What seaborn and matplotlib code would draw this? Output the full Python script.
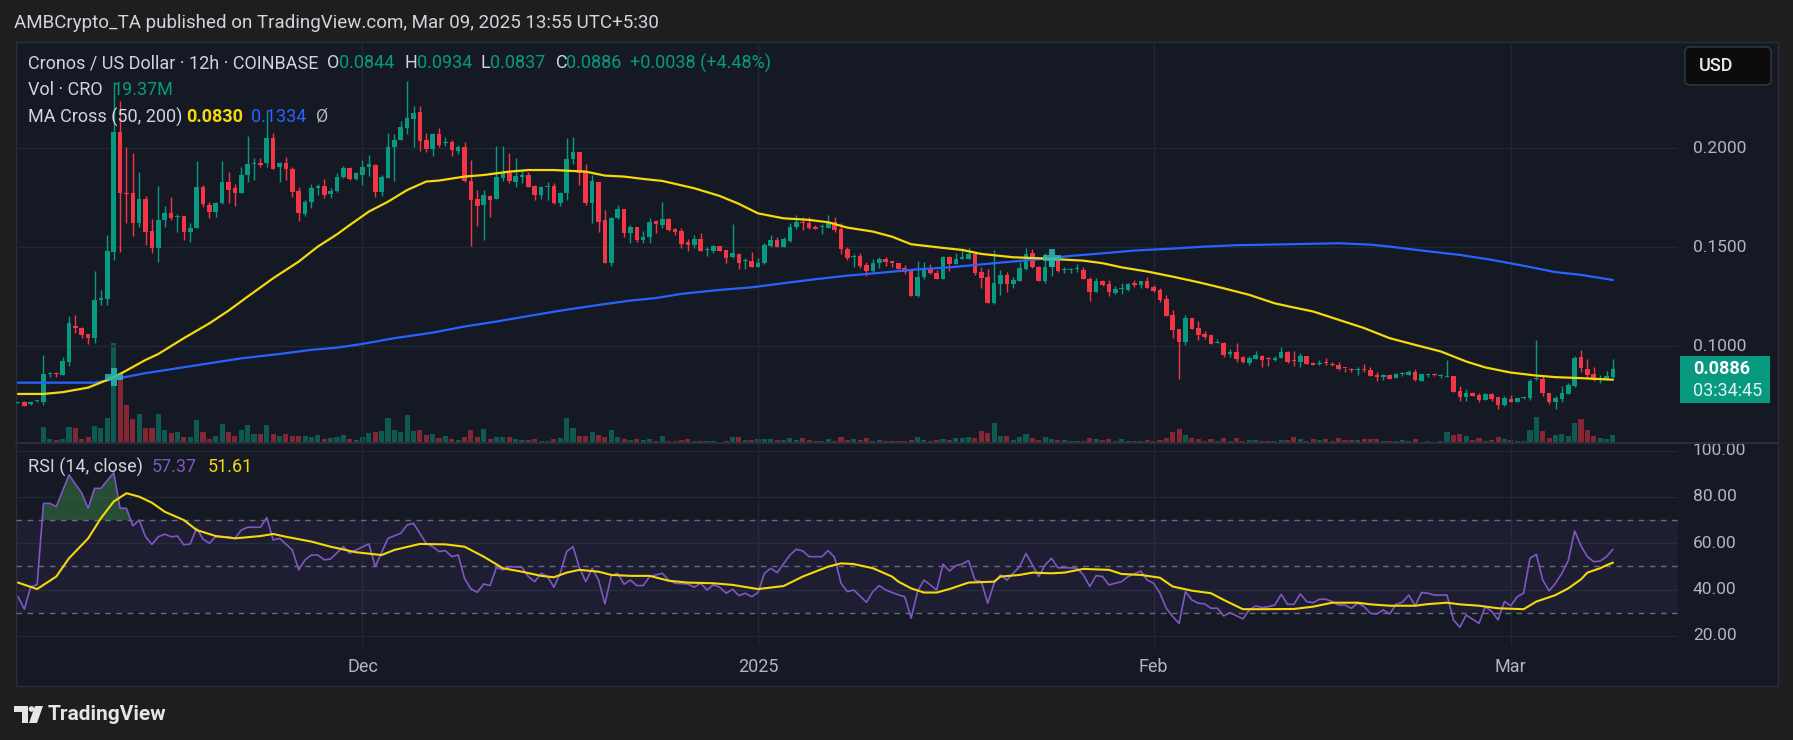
import matplotlib
matplotlib.use("Agg")
import matplotlib.pyplot as plt
import matplotlib.patches as mpatches
import numpy as np
import pandas as pd
import seaborn as sns

W, H = 1793, 740

# 12h candles, index 0 = 4 Nov 2024 00:00 UTC ... index 250 = 9 Mar 2025 00:00 UTC
opens = [
    .0712, .0719, .0706, .0721, .0719, .0857, .0860, .0854, .0917, .1104, .1090,
    .1060, .1040, .1233, .1237, .1478, .2084, .1776, .1776, .1621, .1744,
    .1582, .1498, .1638, .1673, .1655, .1658, .1579, .1599, .1806, .1714,
    .1680, .1722, .1830, .1801, .1776, .1864, .1919, .1924, .1924, .2052,
    .1904, .1924, .1894, .1784, .1668, .1730, .1798, .1810, .1767, .1786,
    .1853, .1902, .1845, .1865, .1907, .1916, .1781, .1852, .2005, .2042,
    .2104, .2147, .2182, .2042, .1995, .2072, .2028, .2030, .1988, .2005,
    .1837, .1742, .1714, .1761, .1744, .1852, .1877, .1832, .1857, .1865,
    .1810, .1764, .1805, .1810, .1722, .1776, .1944, .1981, .1882, .1722,
    .1828, .1638, .1422, .1646, .1693, .1574, .1604, .1537, .1553, .1634,
    .1612, .1643, .1592, .1582, .1525, .1511, .1540, .1485, .1483, .1506,
    .1486, .1449, .1466, .1429, .1430, .1402, .1419, .1508, .1537, .1503,
    .1533, .1604, .1625, .1624, .1604, .1603, .1599, .1628, .1592, .1491,
    .1452, .1457, .1410, .1382, .1419, .1441, .1430, .1419, .1393, .1385,
    .1255, .1348, .1390, .1372, .1339, .1449, .1414, .1439, .1441, .1466,
    .1373, .1350, .1216, .1314, .1360, .1314, .1331, .1392, .1469, .1402,
    .1331, .1398, .1444, .1384, .1384, .1392, .1385, .1338, .1275, .1329,
    .1314, .1270, .1287, .1284, .1318, .1309, .1329, .1297, .1284, .1237,
    .1158, .1085, .1021, .1141, .1090, .1061, .1056, .1017, .1018, .0960,
    .0972, .0943, .0913, .0935, .0952, .0936, .0930, .0942, .0972, .0928,
    .0917, .0951, .0914, .0909, .0915, .0910, .0905, .0889, .0885, .0877,
    .0885, .0880, .0855, .0846, .0855, .0841, .0859, .0855, .0871, .0824,
    .0854, .0856, .0849, .0846, .0851, .0774, .0745, .0765, .0754, .0728,
    .0759, .0742, .0700, .0733, .0715, .0737, .0740, .0833, .0834, .0765,
    .0715, .0733, .0759, .0799, .0944, .0885, .0858, .0829, .0829, .0844,
]
highs = [
    .0718, .0721, .0721, .0725, .0955, .0871, .0871, .0947, .1152, .1156, .1095,
    .1062, .1380, .1284, .1562, .2337, .2241, .2005, .1978, .1879, .1760,
    .1641, .1810, .1710, .1756, .1668, .1660, .1621, .1936, .1815, .1730,
    .1730, .1938, .1879, .1820, .1904, .2062, .1953, .1949, .2194, .2079,
    .1933, .1958, .1907, .1803, .1739, .1818, .1818, .1845, .1798, .1874,
    .1911, .1904, .1882, .1941, .1966, .1920, .1865, .2076, .2072, .2140,
    .2340, .2214, .2214, .2076, .2079, .2101, .2059, .2042, .2017, .2034,
    .1941, .1789, .1789, .1764, .2012, .2012, .1978, .1949, .1890, .1882,
    .1815, .1810, .1828, .1823, .1781, .2051, .2056, .1981, .1921, .1865,
    .1828, .1688, .1655, .1714, .1693, .1612, .1604, .1582, .1646, .1638,
    .1730, .1646, .1599, .1599, .1540, .1562, .1574, .1503, .1511, .1508,
    .1488, .1617, .1469, .1444, .1476, .1444, .1520, .1562, .1550, .1553,
    .1621, .1663, .1651, .1651, .1612, .1618, .1663, .1651, .1621, .1500,
    .1466, .1469, .1424, .1441, .1449, .1449, .1430, .1422, .1410, .1385,
    .1430, .1424, .1415, .1385, .1457, .1457, .1469, .1494, .1498, .1478,
    .1402, .1388, .1486, .1385, .1377, .1351, .1427, .1494, .1491, .1405,
    .1469, .1486, .1452, .1402, .1397, .1415, .1402, .1348, .1343, .1334,
    .1334, .1304, .1318, .1321, .1334, .1331, .1348, .1309, .1292, .1259,
    .1183, .1085, .1158, .1144, .1127, .1077, .1056, .1036, .1019, .0986,
    .1017, .0950, .0952, .0977, .0955, .0947, .0950, .0994, .0977, .0977,
    .0964, .0951, .0919, .0930, .0939, .0919, .0919, .0890, .0888, .0892,
    .0909, .0893, .0868, .0860, .0858, .0863, .0871, .0880, .0885, .0860,
    .0860, .0863, .0860, .0930, .0851, .0799, .0782, .0767, .0762, .0762,
    .0762, .0745, .0750, .0754, .0740, .0750, .0834, .1032, .0851, .0765,
    .0750, .0799, .0813, .0951, .0981, .0936, .0892, .0855, .0875, .0934,
]
lows = [
    .0710, .0697, .0704, .0719, .0703, .0846, .0846, .0852, .0900, .1065, .1040,
    .1011, .1018, .1208, .1208, .1436, .1478, .1621, .1557, .1604, .1511,
    .1469, .1427, .1604, .1638, .1579, .1537, .1528, .1596, .1705, .1650,
    .1655, .1719, .1725, .1710, .1773, .1832, .1840, .1904, .1904, .1896,
    .1832, .1840, .1756, .1634, .1658, .1697, .1764, .1751, .1747, .1778,
    .1848, .1840, .1842, .1815, .1860, .1752, .1759, .1852, .1837, .2040,
    .2072, .2005, .1987, .1983, .1963, .2005, .2012, .1963, .1971, .1832,
    .1506, .1607, .1537, .1655, .1744, .1837, .1826, .1806, .1826, .1806,
    .1739, .1742, .1739, .1719, .1710, .1739, .1921, .1815, .1714, .1621,
    .1579, .1422, .1407, .1641, .1553, .1523, .1528, .1520, .1520, .1574,
    .1599, .1584, .1562, .1498, .1483, .1498, .1481, .1457, .1469, .1481,
    .1422, .1444, .1388, .1388, .1400, .1398, .1415, .1500, .1503, .1503,
    .1528, .1591, .1587, .1592, .1591, .1567, .1596, .1579, .1466, .1436,
    .1398, .1393, .1356, .1373, .1393, .1405, .1402, .1388, .1365, .1254,
    .1250, .1339, .1365, .1339, .1338, .1382, .1414, .1439, .1439, .1357,
    .1296, .1216, .1213, .1259, .1275, .1292, .1331, .1385, .1393, .1331,
    .1318, .1356, .1377, .1368, .1371, .1377, .1338, .1230, .1275, .1304,
    .1255, .1264, .1264, .1280, .1301, .1296, .1292, .1275, .1225, .1154,
    .1043, .0832, .1003, .1085, .1031, .1036, .1011, .1014, .0947, .0947,
    .0922, .0913, .0905, .0935, .0896, .0901, .0927, .0938, .0913, .0901,
    .0893, .0910, .0902, .0905, .0905, .0900, .0880, .0868, .0871, .0855,
    .0871, .0851, .0824, .0829, .0833, .0838, .0851, .0855, .0821, .0824,
    .0846, .0850, .0841, .0843, .0770, .0720, .0720, .0749, .0715, .0728,
    .0723, .0683, .0698, .0716, .0715, .0733, .0725, .0829, .0750, .0708,
    .0683, .0715, .0759, .0791, .0871, .0846, .0821, .0813, .0826, .0837,
]
closes = [
    .0714, .0699, .0719, .0723, .0859, .0860, .0857, .0923, .1115, .1090, .1056,
    .1040, .1233, .1245, .1481, .2084, .1776, .1770, .1621, .1744, .1579,
    .1498, .1638, .1673, .1650, .1658, .1579, .1599, .1806, .1717, .1680,
    .1722, .1830, .1789, .1773, .1864, .1921, .1921, .1914, .2052, .1896,
    .1924, .1894, .1781, .1675, .1730, .1801, .1810, .1764, .1786, .1857,
    .1902, .1845, .1877, .1907, .1919, .1778, .1857, .2005, .2042, .2110,
    .2152, .2180, .2037, .1995, .2072, .2017, .2031, .1992, .2005, .1837,
    .1739, .1708, .1764, .1739, .1857, .1874, .1837, .1860, .1865, .1806,
    .1764, .1803, .1808, .1722, .1776, .1944, .1983, .1877, .1722, .1835,
    .1629, .1422, .1646, .1693, .1574, .1604, .1537, .1553, .1626, .1617,
    .1643, .1587, .1579, .1516, .1511, .1540, .1481, .1487, .1506, .1483,
    .1447, .1469, .1419, .1431, .1402, .1419, .1511, .1537, .1503, .1540,
    .1604, .1629, .1622, .1599, .1592, .1605, .1624, .1587, .1491, .1447,
    .1457, .1407, .1382, .1419, .1441, .1427, .1419, .1390, .1377, .1255,
    .1348, .1390, .1368, .1339, .1452, .1414, .1441, .1452, .1466, .1372,
    .1346, .1216, .1321, .1360, .1314, .1334, .1395, .1466, .1398, .1331,
    .1402, .1452, .1382, .1386, .1386, .1394, .1338, .1275, .1329, .1309,
    .1275, .1289, .1289, .1314, .1309, .1329, .1296, .1279, .1233, .1154,
    .1082, .1021, .1141, .1087, .1056, .1045, .1011, .1019, .0955, .0972,
    .0935, .0917, .0938, .0955, .0930, .0934, .0942, .0972, .0922, .0926,
    .0951, .0910, .0905, .0915, .0913, .0902, .0885, .0887, .0877, .0885,
    .0877, .0851, .0846, .0855, .0834, .0860, .0861, .0871, .0829, .0860,
    .0856, .0854, .0851, .0851, .0770, .0745, .0762, .0750, .0728, .0759,
    .0733, .0703, .0737, .0716, .0737, .0745, .0824, .0835, .0765, .0715,
    .0737, .0762, .0804, .0939, .0888, .0855, .0826, .0833, .0850, .0886,
]
volumes_m = [
    2.4, 2.4, 2.4, 2.4, 37.6, 10.4, 7.2, 10.4, 37.6, 35.2, 9.6,
    13.6, 40, 35.2, 59.2, 236.8, 162.4, 90.4, 56.8, 69.6, 35.2,
    35.2, 69.6, 30.4, 23.2, 26.4, 13.6, 13.6, 54.4, 26.4, 10.4,
    16, 44, 26.4, 16, 30.4, 42.4, 21.6, 21.6, 42.4, 21.6,
    16, 21.6, 16, 16, 16, 13.6, 18.4, 9.6, 12, 13.6,
    18.4, 10.4, 8, 13.6, 24, 26.4, 28, 58.4, 30.4, 25.6,
    66.4, 28, 30.4, 18.4, 21.6, 12, 16, 10.4, 8, 13.6,
    30.4, 13.6, 32.8, 9.6, 13.6, 13.6, 13.6, 10.4, 6.4, 8,
    10.4, 5.6, 4, 10.4, 12, 58.4, 35.2, 16, 16, 25.6,
    20, 13.6, 30.4, 13.6, 9.6, 6.4, 9.6, 6.4, 9.6, 4,
    16.8, 4.8, 4.8, 7.2, 10.4, 4.8, 4.8, 4.8, 4.8, 2.4,
    4.8, 14.4, 14.4, 7.2, 7.2, 10.4, 10.4, 10.4, 7.2, 7.2,
    12, 7.2, 12, 7.2, 4.8, 4.8, 10.4, 4.8, 14.4, 7.2,
    10.4, 7.2, 12, 4.8, 7.2, 4.8, 4.8, 4.8, 4.8, 7.2,
    14.4, 7.2, 4.8, 7.2, 10.4, 7.2, 12, 12, 14.4, 12,
    28.8, 24, 46.4, 16.8, 16.8, 7.2, 14.4, 21.6, 12, 7.2,
    14.4, 9.6, 7.2, 7.2, 4.8, 4.8, 4.8, 12, 9.6, 7.2,
    9.6, 4.8, 9.6, 4.8, 4.8, 4.8, 7.2, 4.8, 7.2, 12,
    26.4, 33.6, 19.2, 12, 9.6, 4.8, 9.6, 4.8, 12, 4.8,
    12, 4.8, 7.2, 7.2, 4.8, 4.8, 4.8, 7.2, 7.2, 14.4,
    9.6, 4.8, 9.6, 7.2, 9.6, 4.8, 12, 7.2, 7.2, 7.2,
    9.6, 9.6, 9.6, 4.8, 4.8, 4.8, 7.2, 4.8, 9.6, 2.4,
    4.8, 2.4, 4.8, 26.4, 19.2, 21.6, 16.8, 7.2, 12, 4.8,
    7.2, 14.4, 9.6, 7.2, 4.8, 4.8, 31.2, 62.4, 28.8, 12,
    19.2, 21.6, 16.8, 48, 57.6, 31.2, 16.8, 12, 9.6, 19.37,
]

# moving averages (candle index, price)
ma50_idx = [0, 4, 7, 11, 14, 16, 20, 22, 26, 30, 33, 36, 40, 44, 47, 50, 52, 55, 58, 61,
            64, 66, 70, 73, 77, 80, 84, 89, 92, 95, 98, 101, 106, 110, 113, 116, 120, 124,
            127, 130, 134, 137, 140, 144, 148, 151, 156, 160, 163, 167, 170, 173, 177, 181,
            185, 189, 193, 197, 200, 203, 207, 211, 215, 219, 223, 227, 230, 234, 238, 241,
            245, 250]
ma50_val = [.0758, .0758, .0767, .0790, .0829, .0859, .0930, .0960, .1040, .1115, .1179,
            .1250, .1343, .1427, .1503, .1565, .1612, .1680, .1730, .1789, .1832, .1837,
            .1857, .1865, .1882, .1890, .1890, .1882, .1862, .1857, .1845, .1835, .1798,
            .1759, .1719, .1671, .1646, .1638, .1626, .1599, .1579, .1553, .1515, .1500,
            .1486, .1466, .1449, .1444, .1439, .1432, .1419, .1398, .1377, .1351, .1323,
            .1292, .1259, .1216, .1195, .1175, .1133, .1091, .1040, .1006, .0973, .0922,
            .0892, .0866, .0851, .0843, .0838, .0830]
ma200_idx = [0, 12, 14, 20, 25, 30, 35, 41, 46, 50, 54, 59, 65, 70, 75, 80, 85, 91, 96, 100,
             104, 110, 115, 120, 125, 130, 136, 141, 146, 150, 154, 160, 165, 170, 175, 181,
             186, 191, 196, 201, 207, 212, 215, 220, 226, 231, 236, 241, 245, 250]
ma200_val = [.0815, .0815, .0826, .0863, .0888, .0913, .0938, .0960, .0981, .0992, .1011,
             .1040, .1068, .1099, .1124, .1152, .1179, .1208, .1230, .1243, .1264, .1284,
             .1297, .1318, .1338, .1356, .1373, .1388, .1398, .1410, .1422, .1439, .1456,
             .1469, .1483, .1493, .1503, .1510, .1513, .1516, .1520, .1513, .1503, .1483,
             .1461, .1436, .1406, .1374, .1360, .1334]
cross_idx = [15, 162]
cross_price = [0.0842, 0.1444]

# RSI (14)
rsi_idx = [0, 1, 2, 3, 4, 5, 6, 8, 10, 11, 12, 13, 15, 16, 17, 18, 19, 20, 21, 22, 23, 24,
           25, 26, 27, 28, 29, 30, 31, 33, 34, 35, 36, 38, 39, 40, 41, 43, 44, 45, 46, 47,
           48, 49, 51, 52, 53, 55, 56, 58, 60, 61, 62, 64, 65, 66, 67, 68, 69, 70, 71, 72,
           73, 74, 75, 76, 77, 79, 80, 81, 82, 83, 84, 85, 86, 87, 88, 89, 90, 91, 92, 93,
           94, 95, 96, 97, 98, 99, 101, 102, 103, 105, 106, 107, 108, 109, 110, 111, 112,
           113, 114, 115, 116, 117, 118, 119, 121, 122, 123, 124, 126, 127, 128, 129, 130,
           131, 133, 134, 135, 136, 138, 139, 140, 141, 142, 143, 144, 145, 146, 147, 148,
           149, 150, 151, 152, 153, 154, 155, 157, 158, 159, 160, 161, 162, 163, 165, 166,
           167, 168, 169, 170, 171, 173, 174, 176, 177, 178, 179, 180, 181, 182, 183, 184,
           185, 186, 187, 188, 189, 190, 192, 193, 194, 195, 196, 197, 198, 199, 200, 201,
           202, 203, 204, 205, 206, 207, 208, 209, 210, 211, 212, 213, 214, 215, 216, 217,
           218, 219, 220, 221, 222, 224, 225, 226, 227, 229, 230, 231, 232, 233, 234, 235,
           236, 237, 238, 239, 240, 241, 242, 243, 244, 245, 246, 247, 248, 249, 250]
rsi_val = [37.0, 31.5, 41.3, 42.0, 77.2, 77.2, 75.8, 89.5, 81.6, 75.1, 83.7, 83.7, 90.5,
           75.1, 75.1, 67.5, 70.0, 62.8, 59.5, 62.8, 63.9, 62.8, 63.1, 59.3, 59.7, 66.5,
           61.8, 60.0, 62.8, 62.8, 62.1, 65.7, 66.9, 66.9, 71.1, 61.4, 62.1, 57.1, 48.5,
           52.8, 54.9, 54.9, 52.8, 53.2, 58.5, 55.7, 57.1, 59.7, 49.9, 62.1, 64.3, 67.9,
           68.6, 59.9, 58.5, 56.4, 56.8, 54.2, 54.9, 44.8, 40.2, 38.8, 42.4, 41.7, 49.6,
           48.5, 49.9, 49.6, 45.6, 43.4, 47.0, 45.6, 41.0, 47.0, 56.4, 58.5, 49.4, 43.4,
           49.2, 44.1, 33.8, 46.0, 47.0, 42.3, 44.1, 41.7, 41.7, 45.6, 47.0, 44.1, 42.7,
           42.4, 41.0, 42.7, 39.8, 42.0, 41.0, 38.4, 40.1, 37.4, 38.4, 36.9, 38.7, 47.0,
           49.2, 47.3, 54.9, 57.4, 56.7, 54.2, 54.2, 56.8, 53.9, 42.7, 39.1, 39.8, 34.5,
           39.1, 41.7, 39.8, 37.7, 36.9, 27.6, 39.1, 44.1, 42.0, 39.8, 51.0, 48.0, 50.3,
           51.0, 52.5, 44.1, 43.4, 34.1, 42.7, 46.3, 44.1, 49.9, 55.6, 50.6, 45.6, 50.6,
           53.5, 49.4, 49.4, 49.2, 46.3, 41.3, 46.0, 45.6, 42.0, 43.4, 45.6, 48.0, 44.1,
           42.7, 38.4, 31.9, 28.3, 25.4, 39.1, 35.5, 34.1, 33.8, 31.9, 31.9, 28.6, 30.0,
           27.3, 31.2, 32.9, 32.2, 32.6, 33.3, 37.9, 33.6, 33.6, 38.1, 34.8, 34.3, 35.8,
           35.8, 34.8, 33.3, 33.3, 31.9, 34.1, 32.6, 29.7, 29.4, 31.2, 29.4, 33.6, 34.5,
           37.6, 33.0, 38.7, 38.4, 37.6, 37.6, 26.9, 23.7, 29.0, 25.4, 32.6, 30.5, 26.9,
           34.8, 33.0, 36.9, 38.4, 53.5, 55.2, 44.1, 39.4, 42.7, 47.0, 52.5, 65.3, 58.8,
           54.2, 52.0, 52.3, 54.2, 57.37]
rsima_idx = [0, 3, 6, 8, 11, 13, 15, 17, 19, 21, 23, 26, 28, 31, 34, 38, 40, 42, 46, 49, 53,
             57, 59, 63, 67, 70, 73, 76, 79, 82, 84, 86, 88, 91, 93, 96, 99, 102, 105, 109,
             112, 116, 120, 123, 127, 129, 131, 134, 137, 138, 140, 142, 144, 146, 149, 153,
             154, 157, 159, 162, 164, 167, 171, 173, 176, 179, 181, 184, 187, 189, 192, 195,
             200, 203, 206, 210, 212, 215, 219, 221, 224, 226, 229, 232, 236, 238, 241, 243,
             245, 246, 248, 249, 250]
rsima_val = [43.0, 40.2, 45.6, 53.5, 62.1, 70.8, 78.0, 81.6, 80.1, 77.5, 73.6, 70.0, 65.7,
             63.1, 62.1, 63.1, 64.0, 62.8, 60.7, 58.5, 56.1, 54.9, 57.1, 59.7, 59.5, 58.5,
             54.2, 49.2, 47.7, 45.9, 45.3, 47.3, 48.5, 47.7, 46.3, 45.9, 45.9, 43.8, 43.0,
             42.7, 42.0, 40.2, 41.5, 45.6, 49.9, 51.3, 51.0, 49.2, 45.6, 43.4, 40.5, 38.7,
             38.7, 40.2, 43.0, 43.4, 45.6, 46.3, 47.3, 47.0, 47.3, 48.9, 48.5, 46.7, 46.3,
             45.1, 41.3, 39.5, 38.4, 35.5, 31.5, 31.5, 31.6, 32.6, 34.3, 34.3, 33.6, 33.0,
             33.0, 33.7, 34.3, 33.6, 33.0, 31.9, 31.5, 34.8, 37.6, 40.5, 44.4, 47.3, 49.2,
             50.5, 51.61]

date_idx = [54, 116, 178, 234]
date_labels = ["Dec", "2025", "Feb", "Mar"]
price_ticks = [0.10, 0.15, 0.20]
rsi_ticks = [100, 80, 60, 40, 20]

OUTER = "#1e1e1e"
PANEL = "#151924"
GRID = "#232734"
UP = "#089981"
DOWN = "#f23645"
TXT = "#d1d4dc"
AXT = "#b2b5be"
YEL = "#f5d90a"
BLUE = "#2962ff"
PURP = "#7e57c2"


def fx(x):
    return x / W


def fy(y):
    return 1 - y / H


def main():
    sns.set_theme(style="dark", rc={"axes.facecolor": "none", "figure.facecolor": OUTER})
    plt.rcParams['font.family'] = ['Roboto', 'DejaVu Sans']

    fig = plt.figure(figsize=(W / 100, H / 100), dpi=100)
    fig.patch.set_facecolor(OUTER)

    # chart panel (drawn under the axes)
    fig.patches.append(mpatches.Rectangle((fx(16), fy(686)), fx(1778 - 16), (686 - 42) / H,
                                          transform=fig.transFigure, facecolor=PANEL,
                                          edgecolor="#2a2e39", lw=1, zorder=-5))

    rect_p = [fx(16), fy(443), fx(1678 - 16), (443 - 42) / H]
    rect_r = [fx(16), fy(646), fx(1678 - 16), (646 - 443) / H]
    xlim = (-0.31, 260.2)

    ax_v = fig.add_axes(rect_p)
    ax = fig.add_axes(rect_p)
    ax_r = fig.add_axes(rect_r)
    for a in (ax_v, ax, ax_r):
        a.set_facecolor("none")
        a.set_xlim(*xlim)
        a.set_xticks([])
        a.set_yticks([])
        for s in a.spines.values():
            s.set_visible(False)
        a.grid(False)

    idx = np.arange(len(closes))
    o = np.array(opens)
    c = np.array(closes)
    up = c >= o

    # volume
    ax_v.set_ylim(0, 952.8)
    vcol = np.where(up, UP, DOWN)
    ax_v.bar(idx, volumes_m, width=0.8, color=vcol, alpha=0.5, linewidth=0)

    # price pane
    ax.set_ylim(0.0510, 0.25374)
    for p in price_ticks:
        ax.axhline(p, color=GRID, lw=1, zorder=0)
        ax.text(1.009, p, f"{p:.4f}", transform=ax.get_yaxis_transform(), ha="left",
                va="center", color=AXT, fontsize=12.5, clip_on=False)
    for d in date_idx:
        ax.axvline(d, color=GRID, lw=1, zorder=0)
        ax_r.axvline(d, color=GRID, lw=1, zorder=0)

    ccol = np.where(up, UP, DOWN)
    ax.vlines(idx, lows, highs, colors=ccol, lw=1, zorder=3)
    body = np.maximum(np.abs(c - o), 0.0005)
    ax.bar(idx, body, bottom=np.minimum(o, c), width=0.72, color=ccol, linewidth=0, zorder=4)

    sns.lineplot(x=ma200_idx, y=ma200_val, ax=ax, color=BLUE, linewidth=1.6,
                 estimator=None, sort=False, legend=False, zorder=5)
    sns.lineplot(x=ma50_idx, y=ma50_val, ax=ax, color=YEL, linewidth=1.6,
                 estimator=None, sort=False, legend=False, zorder=5)
    ax.scatter(cross_idx, cross_price, marker="P", s=170, color="#2ab7b0", alpha=0.85,
               linewidths=0, zorder=6)
    ax.set_xlim(*xlim)
    ax.set_ylim(0.0510, 0.25374)
    ax.set_xlabel("")
    ax.set_ylabel("")
    ax.set_xticks([])
    ax.set_yticks([])

    # last price tag
    fig.canvas.draw()
    ypix = ax.transData.transform((0, closes[-1]))[1]
    ytop = H - ypix - 13
    fig.patches.append(mpatches.Rectangle((fx(1680), fy(ytop + 47)), fx(90), 47 / H,
                                          transform=fig.transFigure, facecolor=UP,
                                          edgecolor="none", zorder=5))
    fig.text(fx(1693), fy(ytop + 13), f"{closes[-1]:.4f}", color="white", fontsize=13,
             fontweight="bold", ha="left", va="center", zorder=6)
    fig.text(fx(1693), fy(ytop + 35), "03:34:45", color="#dff3ef", fontsize=13,
             ha="left", va="center", zorder=6)

    # RSI pane
    ax_r.set_ylim(15.6, 103.3)
    for v in rsi_ticks:
        ax_r.axhline(v, color=GRID, lw=1, zorder=0)
        ax_r.text(1.009, v, f"{v:.2f}", transform=ax_r.get_yaxis_transform(), ha="left",
                  va="center", color=AXT, fontsize=12.5, clip_on=False)
    ax_r.axhspan(30, 70, color=PURP, alpha=0.09, lw=0, zorder=1)
    for v in (70, 50, 30):
        ax_r.axhline(v, color="#6a6d78", lw=1, ls=(0, (4, 4)), zorder=2)
    rv = np.array(rsi_val)
    ax_r.fill_between(rsi_idx, rv, 70, where=rv > 70, interpolate=True, color="#3b8f4a",
                      alpha=0.45, lw=0, zorder=2)
    sns.lineplot(x=rsi_idx, y=rsi_val, ax=ax_r, color=PURP, linewidth=1.2,
                 estimator=None, sort=False, legend=False, zorder=4)
    sns.lineplot(x=rsima_idx, y=rsima_val, ax=ax_r, color=YEL, linewidth=1.5,
                 estimator=None, sort=False, legend=False, zorder=5)
    ax_r.set_xlim(*xlim)
    ax_r.set_ylim(15.6, 103.3)
    ax_r.set_xlabel("")
    ax_r.set_ylabel("")
    ax_r.set_xticks([])
    ax_r.set_yticks([])

    for d, lab in zip(date_idx, date_labels):
        ax_r.text(d, -0.103, lab, transform=ax_r.get_xaxis_transform(), ha="center",
                  va="center", color=AXT, fontsize=13, clip_on=False)

    # pane separator
    fig.add_artist(plt.Line2D([fx(16), fx(1778)], [fy(443), fy(443)], color="#2a2e39", lw=1.5))

    # header and legends
    def put(x, y, s, color, size=13, **kw):
        fig.text(fx(x), fy(y), s, color=color, fontsize=size, ha="left", va="center",
                 zorder=7, **kw)

    put(14, 23, "AMBCrypto_TA published on TradingView.com, Mar 09, 2025 13:55 UTC+5:30", TXT, 13.5)
    put(27.5, 63, "Cronos / US Dollar · 12h · COINBASE", TXT)
    put(327, 63, "O", TXT)
    put(339, 63, "0.0844", UP)
    put(405, 63, "H", TXT)
    put(417, 63, "0.0934", UP)
    put(481, 63, "L", TXT)
    put(490, 63, "0.0837", UP)
    put(556, 63, "C", TXT)
    put(566, 63, "0.0886", UP)
    put(630, 63, "+0.0038 (+4.48%)", UP)
    put(27.5, 90, "Vol · CRO", TXT)
    put(113, 90, "19.37M", UP)
    put(27.5, 117, "MA Cross (50, 200)", TXT)
    put(186, 117, "0.0830", YEL, fontweight="bold")
    put(251, 117, "0.1334", BLUE)
    put(316, 117, "Ø", AXT)
    put(27.5, 467, "RSI (14, close)", TXT)
    put(152, 467, "57.37", PURP)
    put(208, 467, "51.61", YEL)

    # currency box
    fig.patches.append(mpatches.FancyBboxPatch((1685, H - 85), 86, 38,
                                               boxstyle="round,pad=0,rounding_size=5",
                                               transform=None, facecolor="#0c0c0c",
                                               edgecolor="#363a45", lw=1, zorder=5))
    put(1699, 66, "USD", "#e8e8e8", 13, fontweight="medium")

    # TradingView footer logo
    logo = [
        mpatches.Polygon([(14, H - 706), (28, H - 706), (28, H - 723), (22, H - 723),
                          (22, H - 712), (14, H - 712)], closed=True, transform=None),
        mpatches.Circle((31.5, H - 709), 2.8, transform=None),
        mpatches.Polygon([(35, H - 706), (43, H - 706), (37, H - 723), (29, H - 723)],
                         closed=True, transform=None),
    ]
    for pch in logo:
        pch.set_facecolor("#e6e6e6")
        pch.set_edgecolor("none")
        fig.patches.append(pch)
    put(48, 715, "TradingView", "#e6e6e6", 15, fontweight="bold")

    fig.savefig("out.png", dpi=100, facecolor=OUTER)


if __name__ == "__main__":
    main()
